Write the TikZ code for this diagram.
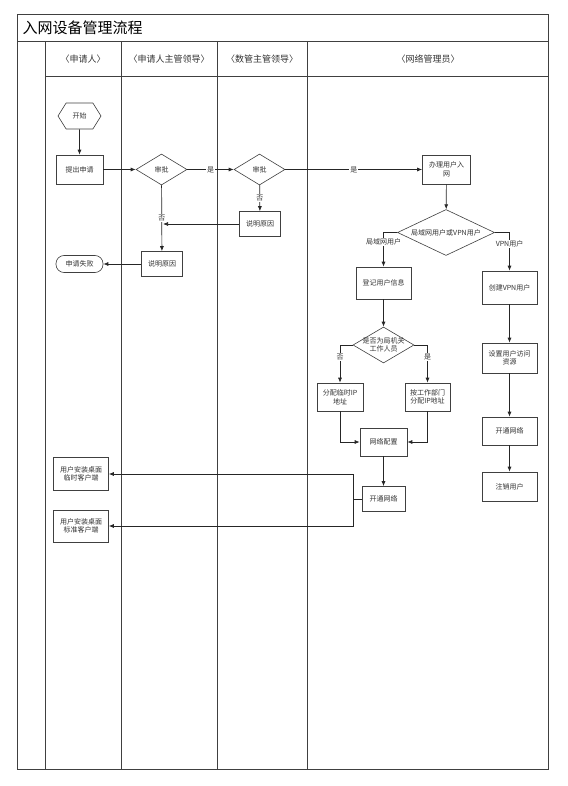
\documentclass[tikz,border=0pt]{standalone}
\usepackage{fontspec}
\setmainfont{Noto Sans CJK SC}
\usetikzlibrary{arrows.meta,shapes.geometric,shapes.symbols}

\begin{document}
\begin{tikzpicture}[x=1pt,y=-1pt,
    box/.style={draw=black!75,line width=.6pt,fill=white,font=\fontsize{7}{8.5}\selectfont,
      text=black!80,align=center,inner sep=1pt},
    decision/.style={diamond,draw=black!75,line width=.6pt,fill=white,inner sep=0pt,
      font=\fontsize{7}{8.5}\selectfont,text=black!80,align=center},
    inside/.style={font=\fontsize{7}{8.5}\selectfont,align=center,text=black!80},
    flow/.style={draw=black!85,line width=.7pt,-{Latex[length=5pt,width=4pt]}},
    tag/.style={font=\fontsize{7}{8}\selectfont,fill=white,inner sep=1pt,text=black!80}]
  \useasboundingbox (0,0) rectangle (567,786);

  %%%%%%%%%%%%%%%%%%%%%%%%%%%%%%%%%%%%%%%%%%%%%%%%%%%%%%%%%%%%%%%%%%%%%%%%%%%
  %%%%  Frame and lanes
  \draw[black!75,line width=.8pt] (17,14.5) rectangle (548.5,769);
  \draw[black!75,line width=.8pt] (17,41.5) -- (548.5,41.5);
  \draw[black!75,line width=.8pt] (45,76) -- (548.5,76);
  \foreach \x in {45,121,217,307.5}
    {\draw[black!75,line width=.8pt] (\x,41.5) -- (\x,769);}

  \node[anchor=west,font=\fontsize{15}{17}\selectfont] (title) at (19,28) {入网设备管理流程};
  \foreach \x/\name/\txt in {83/hdapp/申请人,169/hdlead/申请人主管领导,
      262/hddata/数管主管领导,428/hdnet/网络管理员}
    {\node[font=\fontsize{9}{11}\selectfont,text=black!80] (\name) at (\x,59) {〈\txt〉};}

  %%%%%%%%%%%%%%%%%%%%%%%%%%%%%%%%%%%%%%%%%%%%%%%%%%%%%%%%%%%%%%%%%%%%%%%%%%%
  %%%%  Steps
  \node[signal,signal to=west and east,signal pointer angle=116,draw=black!75,line width=.6pt,
    minimum width=43pt,minimum height=26pt,inner sep=1pt,font=\fontsize{7}{8.5}\selectfont,
    text=black!80] (start) at (79.5,116) {开始};
  \node[box,minimum width=47pt,minimum height=29pt] (apply) at (79.5,169.5) {提出申请};
  \node[decision,minimum width=51pt,minimum height=31pt] (appr1) at (161.5,169.5) {审批};
  \node[decision,minimum width=51pt,minimum height=31pt] (appr2) at (259.5,169.5) {审批};
  \node[box,minimum width=48pt,minimum height=29pt] (handle) at (446.5,169.5) {办理用户入\\网};
  \node[box,minimum width=41.5pt,minimum height=25pt] (reason2) at (260,224) {说明原因};
  \node[box,minimum width=41pt,minimum height=25pt] (reason1) at (162,264) {说明原因};
  \node[box,rounded corners=8pt,minimum width=47pt,minimum height=17pt] (fail) at (79.5,264) {申请失败};

  \node[decision,minimum width=97pt,minimum height=46pt,
    label={[inside]center:局域网用户或VPN用户}] (usertype) at (446,232.5) {};
  \node[box,minimum width=55pt,minimum height=32pt] (register) at (383.5,283) {登记用户信息};
  \node[box,minimum width=55pt,minimum height=33pt] (vpn) at (509.5,287.5) {创建VPN用户};
  \node[decision,minimum width=61pt,minimum height=36pt,
    label={[inside]center:{是否为局机关\\工作人员}}] (isstaff) at (383.5,345) {};
  \node[box,minimum width=46pt,minimum height=28pt] (tempip) at (340,397) {分配临时IP\\地址};
  \node[box,minimum width=45pt,minimum height=28pt] (deptip) at (427.5,397) {按工作部门\\分配IP地址};
  \node[box,minimum width=47pt,minimum height=28pt] (config) at (383.5,442) {网络配置};
  \node[box,minimum width=43pt,minimum height=25pt] (open1) at (383.5,499) {开通网络};
  \node[box,minimum width=55pt,minimum height=33pt] (client1) at (81,474) {用户安装桌面\\临时客户端};
  \node[box,minimum width=55pt,minimum height=32pt] (client2) at (81,526) {用户安装桌面\\标准客户端};

  \node[box,minimum width=55pt,minimum height=30pt] (access) at (509.5,358) {设置用户访问\\资源};
  \node[box,minimum width=55pt,minimum height=28pt] (open2) at (509.5,431) {开通网络};
  \node[box,minimum width=55pt,minimum height=29pt] (cancel) at (509.5,486.5) {注销用户};

  %%%%%%%%%%%%%%%%%%%%%%%%%%%%%%%%%%%%%%%%%%%%%%%%%%%%%%%%%%%%%%%%%%%%%%%%%%%
  %%%%  Flow
  \draw[flow] (start) -- (apply);
  \draw[flow] (apply) -- (appr1);
  \draw[flow] (appr1) -- node[tag]{是} (appr2);
  \draw[flow] (appr2) -- node[tag]{是} (handle);
  \draw[flow] (appr2) -- node[tag]{否} (reason2);
  \draw[flow] (appr1) -- node[tag]{否} (reason1);
  \draw[flow] (reason2) -- ([xshift=1.5pt]reason2.west -| appr1.south);
  \draw[flow] (reason1) -- (fail);

  \draw[flow] (handle) -- (usertype);
  \draw[flow] (usertype.west) -| node[tag,pos=.64]{局域网用户} (register.north);
  \draw[flow] (usertype.east) -| node[tag,pos=.65]{VPN用户} (vpn.north);
  \draw[flow] (register) -- (isstaff);
  \draw[flow] (isstaff.west) -| node[tag,pos=.66]{否} (tempip.north);
  \draw[flow] (isstaff.east) -| node[tag,pos=.66]{是} (deptip.north);
  \draw[flow] (tempip.south) |- (config.west);
  \draw[flow] (deptip.south) |- (config.east);
  \draw[flow] (config) -- (open1);
  \coordinate (split) at (353,499);
  \draw[flow] (open1.west) -- (split) |- (client1.east);
  \draw[flow] (split) |- (client2.east);

  \draw[flow] (vpn) -- (access);
  \draw[flow] (access) -- (open2);
  \draw[flow] (open2) -- (cancel);
\end{tikzpicture}
\end{document}
